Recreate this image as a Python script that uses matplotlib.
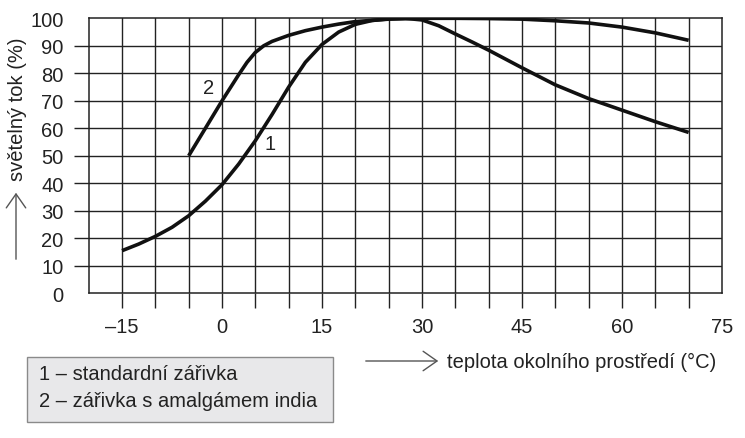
import numpy as np
import matplotlib
matplotlib.use('Agg')
import matplotlib.pyplot as plt
from matplotlib.patches import Rectangle, FancyArrowPatch

plt.rcParams['font.family'] = ['Liberation Sans', 'DejaVu Sans']

# curve 1 - standardni zarivka
t1 = [-15, -12.5, -10, -7.5, -5, -2.5, 0, 2.5, 5, 7.5, 10, 12.5, 15, 17.5, 20,
      22.5, 25, 27.5, 30, 32.5, 35, 37.5, 40, 42.5, 45, 50, 55, 60, 65, 70]
v1 = [15.5, 17.9, 20.7, 24, 28.2, 33.5, 39.5, 47, 55.5, 65, 75, 84, 90.5, 95, 97.8,
      99.2, 99.8, 100, 99.4, 97.3, 94.3, 91.4, 88.4, 85.2, 82, 75.8, 70.8, 66.6, 62.4, 58.5]
# curve 2 - zarivka s amalgamem india
t2 = [-5, -2.5, 0, 2.5, 3.75, 5, 6.25, 7.5, 10, 12.5, 15, 17.5, 20, 25, 30, 35, 40,
      45, 50, 55, 60, 65, 70]
v2 = [50, 60, 70, 79.5, 84, 87.6, 90, 91.6, 93.8, 95.5, 96.8, 97.9, 98.8, 99.7, 100,
      100, 99.9, 99.7, 99.1, 98.3, 96.8, 94.7, 92]

xticks = [-15, 0, 15, 30, 45, 60, 75]
xticklabels = ['–15', '0', '15', '30', '45', '60', '75']
yticks = [0, 10, 20, 30, 40, 50, 60, 70, 80, 90, 100]
legend_lines = ['1 – standardní zářivka', '2 – zářivka s amalgámem india']

fs = 14.5
fig = plt.figure(figsize=(7.45, 4.39), dpi=100)
ax = fig.add_axes([88.7/745, 144.7/439, 633.3/745, 275/439])

ax.plot(t1, v1, color='#111111', lw=2.6, solid_capstyle='butt', solid_joinstyle='round', zorder=3)
ax.plot(t2, v2, color='#111111', lw=2.6, solid_capstyle='butt', solid_joinstyle='round', zorder=3)

ax.set_xlim(-20, 75)
ax.set_ylim(0, 100)

ax.xaxis.remove_overlapping_locs = False
ax.yaxis.remove_overlapping_locs = False
ax.set_xticks(xticks)
ax.set_xticklabels(xticklabels)
ax.set_yticks(yticks)
ax.set_xticks(np.arange(-15, 71, 5), minor=True)
ax.set_yticks(np.arange(10, 91, 10), minor=True)
ax.tick_params(which='major', length=0, labelsize=fs, colors='#222222')
ax.tick_params(axis='x', which='major', pad=17)
ax.tick_params(axis='y', which='major', pad=18)
ax.tick_params(which='minor', length=11, width=1.0, color='#222222', direction='out')
ax.grid(which='minor', color='#222222', lw=1.0)
for s in ax.spines.values():
    s.set_color('#222222')
    s.set_linewidth(1.1)

ax.text(-2.05, 74.9, '2', fontsize=fs, ha='center', va='center', color='#222222')
ax.text(7.2, 54.3, '1', fontsize=fs, ha='center', va='center', color='#222222')

# axis labels with arrows
fig.text(18, 330, 'světelný tok (%)', rotation=90, fontsize=fs, ha='center', va='center',
         color='#222222', transform=None)
fig.patches.append(FancyArrowPatch(
    (16, 176), (16, 248), transform=None, arrowstyle='->,head_length=5,head_width=3.5',
    color='#555555', lw=1.0, mutation_scale=2))
fig.text(447, 77, 'teplota okolního prostředí (°C)', fontsize=fs, ha='left', va='center',
         color='#222222', transform=None)
fig.patches.append(FancyArrowPatch(
    (363, 77), (441, 77), transform=None, arrowstyle='->,head_length=5,head_width=3.5',
    color='#555555', lw=1.0, mutation_scale=2))

# legend box
fig.patches.append(Rectangle((27, 16), 306, 65, transform=None, facecolor='#e8e8ea',
                             edgecolor='#8a8a8a', lw=1.0))
fig.text(39, 64, legend_lines[0], fontsize=fs, ha='left', va='center', color='#222222', transform=None)
fig.text(39, 37, legend_lines[1], fontsize=fs, ha='left', va='center', color='#222222', transform=None)

fig.savefig('out.png', dpi=100)
